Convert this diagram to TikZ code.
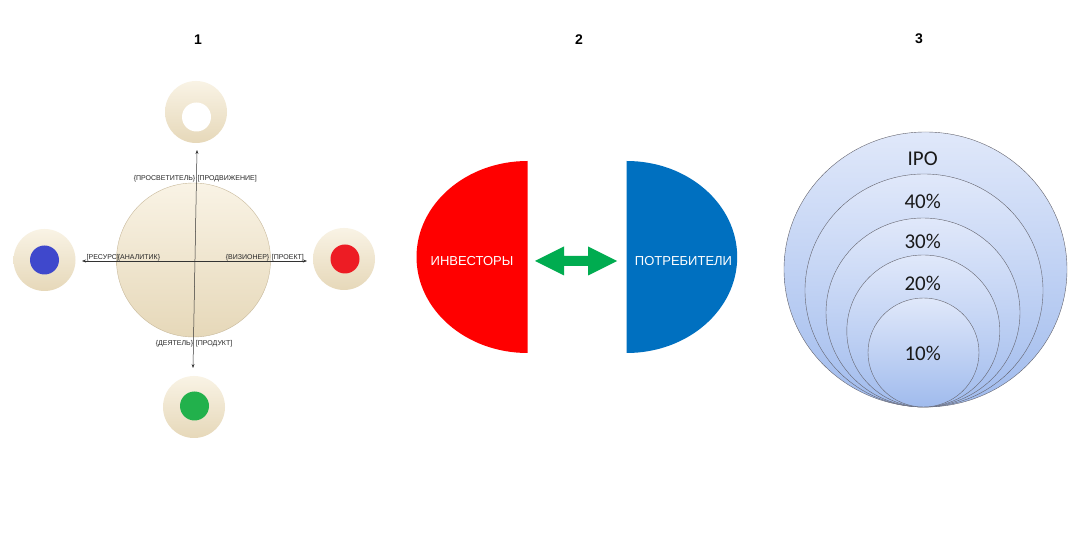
\documentclass[tikz,border=0pt]{standalone}
\usepackage{fontspec}
\setmainfont{Liberation Sans}
\newfontfamily\calib{Carlito}
\usetikzlibrary{shapes.geometric,arrows.meta}
\definecolor{creamtop}{RGB}{249,243,229}
\definecolor{creambot}{RGB}{230,216,185}
\definecolor{creamline}{RGB}{200,185,155}
\definecolor{dotblue}{RGB}{63,72,204}
\definecolor{dotred}{RGB}{237,28,36}
\definecolor{dotgreen}{RGB}{34,177,76}
\definecolor{halfred}{RGB}{255,0,0}
\definecolor{halfblue}{RGB}{0,112,192}
\definecolor{arrgreen}{RGB}{0,172,80}
\definecolor{bluetop}{RGB}{224,232,250}
\definecolor{bluebot}{RGB}{160,187,237}
\definecolor{ringline}{RGB}{100,100,110}
\tikzset{
  numlabel/.style={font=\bfseries\fontsize{14}{14}\selectfont, inner sep=0pt},
  satellite/.style={circle, minimum size=62pt, inner sep=0pt, draw=none,
    top color=creamtop, bottom color=creambot},
  hub/.style={circle, minimum size=154pt, inner sep=0pt, draw=creamline, line width=0.4pt,
    top color=creamtop, bottom color=creambot},
  dot/.style={circle, minimum size=29pt, inner sep=0pt, draw=none},
  axis/.style={line width=0.5pt, draw=black!80, {Stealth[length=4pt,width=3pt]}-{Stealth[length=4pt,width=3pt]}},
  axlabel/.style={font=\fontsize{7}{7}\selectfont, inner sep=0pt, text=black!85},
  halftext/.style={font=\fontsize{13}{13}\selectfont, text=white, inner sep=0pt},
  ring/.style={ellipse, inner sep=0pt, draw=ringline, line width=0.4pt,
    top color=bluetop, bottom color=bluebot},
  ringtext/.style={font=\calib\fontsize{21}{21}\selectfont, inner sep=0pt, text=black!90}
}
\begin{document}
\begin{tikzpicture}[x=1pt,y=-1pt]
\useasboundingbox (0,0) rectangle (1077,534);
\fill[white] (0,0) rectangle (1077,534);

% numbers
\node[numlabel] (n1) at (198,39.5) {1};
\node[numlabel] (n2) at (579,39.5) {2};
\node[numlabel] (n3) at (919,38.7) {3};

% ---------- panel 1 ----------
\node[hub] (hub) at (193.5,260) {};
\node[satellite] (top) at (196,112) {};
\node[dot, fill=white] (topdot) at (196.5,117) {};
\node[satellite] (left) at (44.5,260) {};
\node[dot, fill=dotblue] (leftdot) at (44.5,260) {};
\node[satellite] (right) at (344,259) {};
\node[dot, fill=dotred] (rightdot) at (345,259) {};
\node[satellite] (bottom) at (194,407) {};
\node[dot, fill=dotgreen] (bottomdot) at (194.5,406) {};

\coordinate (vtop) at (197,150);
\coordinate (vbot) at (193,368);
\coordinate (hleft) at (82,261);
\coordinate (hright) at (307,261);
\draw[axis] (vbot) -- (vtop);
\draw[axis] (hleft) -- (hright);

\node[axlabel, anchor=base east] (l1) at (195.5,180.5) {\{ПРОСВЕТИТЕЛЬ\}};
\node[axlabel, anchor=base west] (l2) at (197.5,180.5) {[ПРОДВИЖЕНИЕ]};
\node[axlabel, anchor=base west] (l3) at (86.5,259.2) {[РЕСУРС]};
\node[axlabel, anchor=base west] (l4) at (117.7,259.2) {\{АНАЛИТИК\}};
\node[axlabel, anchor=base east] (l5) at (269.5,259.2) {\{ВИЗИОНЕР\}};
\node[axlabel, anchor=base west] (l6) at (271.7,259.2) {[ПРОЕКТ]};
\node[axlabel, anchor=base east] (l7) at (193.3,345.8) {\{ДЕЯТЕЛЬ\}};
\node[axlabel, anchor=base west] (l8) at (195.7,345.8) {[ПРОДУКТ]};

% ---------- panel 2 ----------
\fill[halfred] (527.5,353) arc[start angle=90, end angle=270, x radius=111, y radius=96] -- cycle;
\fill[halfblue] (626.7,161) arc[start angle=-90, end angle=90, x radius=110.5, y radius=96] -- cycle;
\node[halftext] (inv) at (472,261) {ИНВЕСТОРЫ};
\node[halftext] (cons) at (683.5,261) {ПОТРЕБИТЕЛИ};

\coordinate (al) at (535,261);
\coordinate (ar) at (617,261);
\fill[arrgreen] (al) -- (564,246.5) -- (564,256) -- (588,256) -- (588,246.5) -- (ar)
  -- (588,275.5) -- (588,266) -- (564,266) -- (564,275.5) -- cycle;

% ---------- panel 3 ----------
\node[ring, minimum width=283pt, minimum height=275pt] (c5) at (925.5,269.5) {};
\node[ring, minimum width=238pt, minimum height=233pt] (c4) at (924,290.5) {};
\node[ring, minimum width=194pt, minimum height=189pt] (c3) at (923,312.5) {};
\node[ring, minimum width=153pt, minimum height=152pt] (c2) at (923.3,331) {};
\node[ring, minimum width=111pt, minimum height=109pt] (c1) at (923.5,352.5) {};

\node[ringtext] (t5) at (922.7,159) {IPO};
\node[ringtext] (t4) at (922.7,201) {40\%};
\node[ringtext] (t3) at (922.7,241.7) {30\%};
\node[ringtext] (t2) at (922.7,283) {20\%};
\node[ringtext] (t1) at (922.7,353) {10\%};
\end{tikzpicture}
\end{document}
